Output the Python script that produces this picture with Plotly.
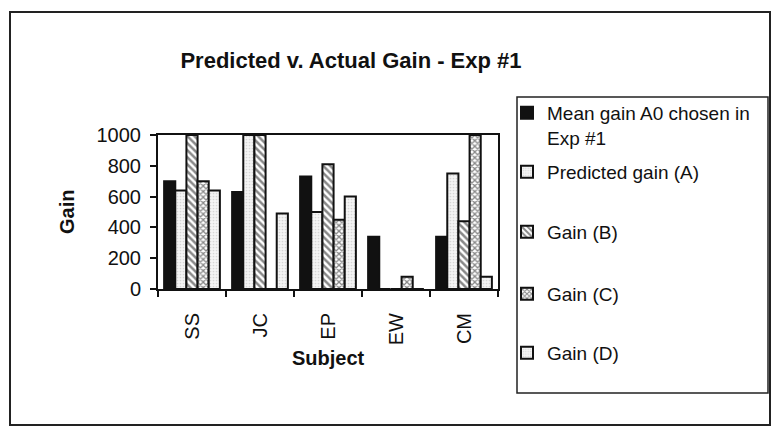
import plotly.graph_objects as go

subjects = ["SS", "JC", "EP", "EW", "CM"]
mean_a0 = [700, 630, 730, 340, 340]
pred_a = [640, 1000, 500, 0, 750]
gain_b = [1000, 1000, 810, 0, 440]
gain_c = [700, 0, 450, 80, 1000]
gain_d = [640, 490, 600, 0, 80]

names = ["Mean gain A0 chosen in<br>Exp #1", "Predicted gain (A)", "Gain (B)", "Gain (C)", "Gain (D)"]
series = [mean_a0, pred_a, gain_b, gain_c, gain_d]

FONT = "Liberation Sans, Arial, sans-serif"

# plot area in pixels
PX0, PX1, PY0, PY1 = 158, 498, 135, 289
W, H = 772, 430
def px(x):
    return (x - PX0) / (PX1 - PX0)
def py(y):
    return (PY1 - y) / (PY1 - PY0)

styles = [
    dict(color="#111111"),
    dict(color="#f4f4f4", pattern=dict(shape=".", fgcolor="#b8b8b8", bgcolor="#f4f4f4", size=3, solidity=0.25)),
    dict(color="white", pattern=dict(shape="\\", fgcolor="#111111", bgcolor="white", size=5, solidity=0.5)),
    dict(color="white", pattern=dict(shape="x", fgcolor="#111111", bgcolor="white", size=4, solidity=0.55)),
    dict(color="#f4f4f4", pattern=dict(shape=".", fgcolor="#b8b8b8", bgcolor="#f4f4f4", size=3, solidity=0.25)),
]

legend_ids = ["legend", "legend2", "legend3", "legend4", "legend5"]
legend_y = [125.5, 172, 232, 294, 353]

fig = go.Figure()
for name, vals, st, lid in zip(names, series, styles, legend_ids):
    marker = dict(color=st["color"], line=dict(color="#111111", width=2))
    if "pattern" in st:
        marker["pattern"] = st["pattern"]
    fig.add_trace(go.Bar(x=subjects, y=vals, name=name, marker=marker, legend=lid))

legend_common = dict(
    xanchor="left", yanchor="middle", x=px(507),
    bgcolor="rgba(0,0,0,0)", borderwidth=0,
    font=dict(family=FONT, size=19, color="#111111"),
    valign="top",
)
layout_legends = {}
for lid, ly in zip(legend_ids, legend_y):
    d = dict(legend_common)
    d["y"] = py(ly)
    layout_legends[lid] = d

fig.update_layout(
    width=W, height=H,
    margin=dict(l=PX0, r=W - PX1, t=PY0, b=H - PY1, autoexpand=False),
    paper_bgcolor="white", plot_bgcolor="white",
    barmode="group", bargap=0.18, bargroupgap=0,
    font=dict(family=FONT, size=20, color="#111111"),
    title=dict(text="<b>Predicted v. Actual Gain - Exp #1</b>",
               x=351 / W, xref="container", xanchor="center",
               y=1 - 60 / H, yref="container", yanchor="middle",
               font=dict(family=FONT, size=22, color="#111111")),
    xaxis=dict(type="category", showline=True, linecolor="#111111", linewidth=2, mirror=True,
               ticks="outside", ticklen=6, tickcolor="#111111", tickwidth=1.5,
               tickson="boundaries", tickangle=-90, ticklabelstandoff=14,
               tickfont=dict(family=FONT, size=20, color="#111111"), showgrid=False),
    yaxis=dict(range=[0, 1000], tickvals=[0, 200, 400, 600, 800, 1000],
               showline=True, linecolor="#111111", linewidth=2, mirror=True,
               ticks="outside", ticklen=6, tickcolor="#111111", tickwidth=1.5,
               ticklabelstandoff=5,
               tickfont=dict(family=FONT, size=20, color="#111111"),
               showgrid=False, zeroline=False),
    showlegend=True,
    **layout_legends,
)

fig.add_annotation(text="<b>Gain</b>", xref="paper", yref="paper", x=px(67), y=py(212),
                   textangle=-90, showarrow=False, xanchor="center", yanchor="middle",
                   font=dict(family=FONT, size=20, color="#111111"))
fig.add_annotation(text="<b>Subject</b>", xref="paper", yref="paper", x=px(328), y=py(358),
                   showarrow=False, xanchor="center", yanchor="middle",
                   font=dict(family=FONT, size=20, color="#111111"))

# outer chart frame and legend frame
fig.add_shape(type="rect", xref="paper", yref="paper", x0=px(10), x1=px(770), y0=py(425), y1=py(12),
              line=dict(color="#222222", width=2), layer="below")
fig.add_shape(type="rect", xref="paper", yref="paper", x0=px(517), x1=px(768), y0=py(393), y1=py(97),
              line=dict(color="#222222", width=1.5), layer="below")

fig.write_html("out.html")
